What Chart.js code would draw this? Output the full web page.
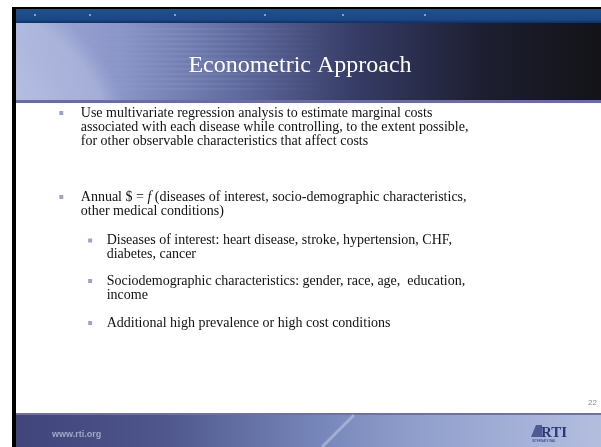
<!DOCTYPE html>
<html>
<head>
<meta charset="utf-8">
<script src="https://cdn.jsdelivr.net/npm/chart.js@4.4.0/dist/chart.umd.min.js"></script>
<style>
  html, body { margin: 0; padding: 0; background: #fff; overflow: hidden; }
  canvas { display: block; }
</style>
</head>
<body>
<canvas id="slide" width="601" height="447"></canvas>
<script>
// contenido de la diapositiva
var slideTitle = 'Econometric Approach';
var bulletLines = [
  ['Use multivariate regression analysis to estimate marginal costs',
   'associated with each disease while controlling, to the extent possible,',
   'for other observable characteristics that affect costs'],
  ['Annual $ = *f* (diseases of interest, socio-demographic characteristics,',
   'other medical conditions)'],
  ['Diseases of interest: heart disease, stroke, hypertension, CHF,',
   'diabetes, cancer'],
  ['Sociodemographic characteristics: gender, race, age,  education,',
   'income'],
  ['Additional high prevalence or high cost conditions']
];
var bulletLevel = [1, 1, 2, 2, 2];   // nivel de sangria
var bulletRow = [1, 7, 10.1, 13, 16]; // fila (en lineas de texto)
var pageNumber = '22';
var footerUrl = 'www.rti.org';
var logoText = 'RTI';
var logoSub = 'INTERNATIONAL';

var W = 601, H = 447;
var LINE = 14;

// fondo: marco, banda superior, cabecera y pie
var slideBackground = {
  id: 'slideBackground',
  beforeDraw: function (chart) {
    var ctx = chart.ctx;
    ctx.save();
    ctx.fillStyle = '#fff';
    ctx.fillRect(0, 0, W, H);
    ctx.fillStyle = '#000';
    ctx.fillRect(12, 7, W - 12, H - 7);
    ctx.fillStyle = '#fff';
    ctx.fillRect(16, 9, W - 16, H - 9);

    // banda azul superior
    var g = ctx.createLinearGradient(0, 9, 0, 23);
    g.addColorStop(0, '#20508f');
    g.addColorStop(0.75, '#1b4786');
    g.addColorStop(1, '#142f5c');
    ctx.fillStyle = g;
    ctx.fillRect(16, 9, W - 16, 14);
    [35, 90, 175, 265, 343, 425].forEach(function (x) {
      ctx.fillStyle = 'rgba(150,185,235,0.8)';
      ctx.fillRect(x - 1, 14, 2, 2);
    });

    // cabecera
    var hg = ctx.createLinearGradient(16, 0, W, 0);
    hg.addColorStop(0, '#a3add7');
    hg.addColorStop(0.18, '#8a95c8');
    hg.addColorStop(0.38, '#5f6a9e');
    hg.addColorStop(0.58, '#363c66');
    hg.addColorStop(0.8, '#1d1e31');
    hg.addColorStop(1, '#131318');
    ctx.fillStyle = hg;
    ctx.fillRect(16, 23, W - 16, 78);

    // planeta (borde suave)
    ctx.beginPath();
    ctx.rect(16, 23, W - 16, 78);
    ctx.clip();
    var rg = ctx.createRadialGradient(-40, 160, 30, -40, 160, 175);
    rg.addColorStop(0, 'rgba(205,212,238,0.6)');
    rg.addColorStop(0.7, 'rgba(190,200,232,0.45)');
    rg.addColorStop(0.86, 'rgba(200,208,236,0.35)');
    rg.addColorStop(1, 'rgba(185,195,230,0)');
    ctx.fillStyle = rg;
    ctx.fillRect(16, 23, 220, 78);
    // vetas horizontales
    for (var y = 28; y < 90; y += 5) {
      var sg = ctx.createLinearGradient(90, 0, 330, 0);
      sg.addColorStop(0, 'rgba(200,210,240,0)');
      sg.addColorStop(0.4, 'rgba(200,210,240,0.1)');
      sg.addColorStop(1, 'rgba(200,210,240,0)');
      ctx.fillStyle = sg;
      ctx.fillRect(90, y, 240, 2);
    }
    ctx.restore();
    ctx.save();
    ctx.fillStyle = '#6b6ba5';
    ctx.fillRect(16, 100, W - 16, 3);

    // pie
    ctx.fillStyle = '#6e70aa';
    ctx.fillRect(16, 413, W - 16, 2);
    var fg = ctx.createLinearGradient(16, 0, W, 0);
    fg.addColorStop(0, '#40447a');
    fg.addColorStop(0.25, '#4e568b');
    fg.addColorStop(0.5, '#7483b7');
    fg.addColorStop(0.68, '#909ecc');
    fg.addColorStop(1, '#b3bedf');
    ctx.fillStyle = fg;
    ctx.fillRect(16, 415, W - 16, H - 415);
    ctx.strokeStyle = 'rgba(210,218,242,0.45)';
    ctx.lineWidth = 3;
    ctx.beginPath();
    ctx.moveTo(322, H);
    ctx.lineTo(354, 415);
    ctx.stroke();

    ctx.restore();
  },
  afterDatasetsDraw: function (chart) {
    var ctx = chart.ctx;
    var yScale = chart.scales.y;
    var meta = chart.getDatasetMeta(0);
    ctx.save();

    // titulo
    ctx.fillStyle = '#ffffff';
    ctx.font = '24px "Liberation Serif"';
    ctx.textAlign = 'center';
    ctx.textBaseline = 'alphabetic';
    ctx.fillText(slideTitle, 300, 72);

    // texto de las vinetas, colocado segun cada punto
    ctx.textAlign = 'left';
    ctx.fillStyle = '#111';
    meta.data.forEach(function (pt, i) {
      var gap = bulletLevel[i] === 1 ? 19.5 : 16.5;
      bulletLines[i].forEach(function (line, k) {
        var y = yScale.getPixelForValue(bulletRow[i] + k) + 4;
        var x = pt.x + gap;
        line.split('*').forEach(function (seg, s) {
          ctx.font = (s % 2 ? 'italic ' : '') + '14px "Liberation Serif"';
          ctx.fillText(seg, x, y);
          x += ctx.measureText(seg).width;
        });
      });
    });

    // numero de pagina
    ctx.fillStyle = '#8a8a8a';
    ctx.font = '8px "Liberation Sans"';
    ctx.textAlign = 'right';
    ctx.fillText(pageNumber, 597, 405);

    // url
    ctx.textAlign = 'left';
    ctx.fillStyle = '#a2a8c8';
    ctx.font = 'bold 9px "Liberation Sans"';
    ctx.fillText(footerUrl, 52, 437);

    // logo
    ctx.fillStyle = '#4d5a93';
    ctx.beginPath();
    ctx.moveTo(531, 437);
    ctx.lineTo(536, 425);
    ctx.lineTo(542, 425);
    ctx.lineTo(542, 437);
    ctx.closePath();
    ctx.fill();
    ctx.fillStyle = '#2b3878';
    ctx.font = 'bold 15px "Liberation Serif"';
    ctx.fillText(logoText, 541, 437);
    ctx.font = '3px "Liberation Sans"';
    ctx.fillText(logoSub, 532, 442);

    ctx.restore();
  }
};

var bulletPoints = bulletLevel.map(function (lvl, i) {
  return { x: lvl, y: bulletRow[i] };
});

// area del grafico = cuerpo de la diapositiva
var padTop = 103, padBottom = H - 413, padLeft = 16;
var xMin = 1 - (61.5 - padLeft) / 29;
var yMin = 4 / LINE;

new Chart(document.getElementById('slide').getContext('2d'), {
  type: 'scatter',
  data: {
    datasets: [{
      data: bulletPoints,
      pointStyle: 'rect',
      pointRadius: 2.8,
      pointHoverRadius: 2.8,
      backgroundColor: '#9aa4cc',
      borderWidth: 0
    }]
  },
  options: {
    responsive: false,
    animation: false,
    events: [],
    layout: { padding: { top: padTop, bottom: padBottom, left: padLeft, right: 0 } },
    scales: {
      x: { display: false, min: xMin, max: xMin + (W - padLeft) / 29 },
      y: { display: false, reverse: true, min: yMin, max: yMin + (413 - padTop) / LINE }
    },
    plugins: {
      legend: { display: false },
      tooltip: { enabled: false },
      title: { display: false }
    }
  },
  plugins: [slideBackground]
});
</script>
</body>
</html>
